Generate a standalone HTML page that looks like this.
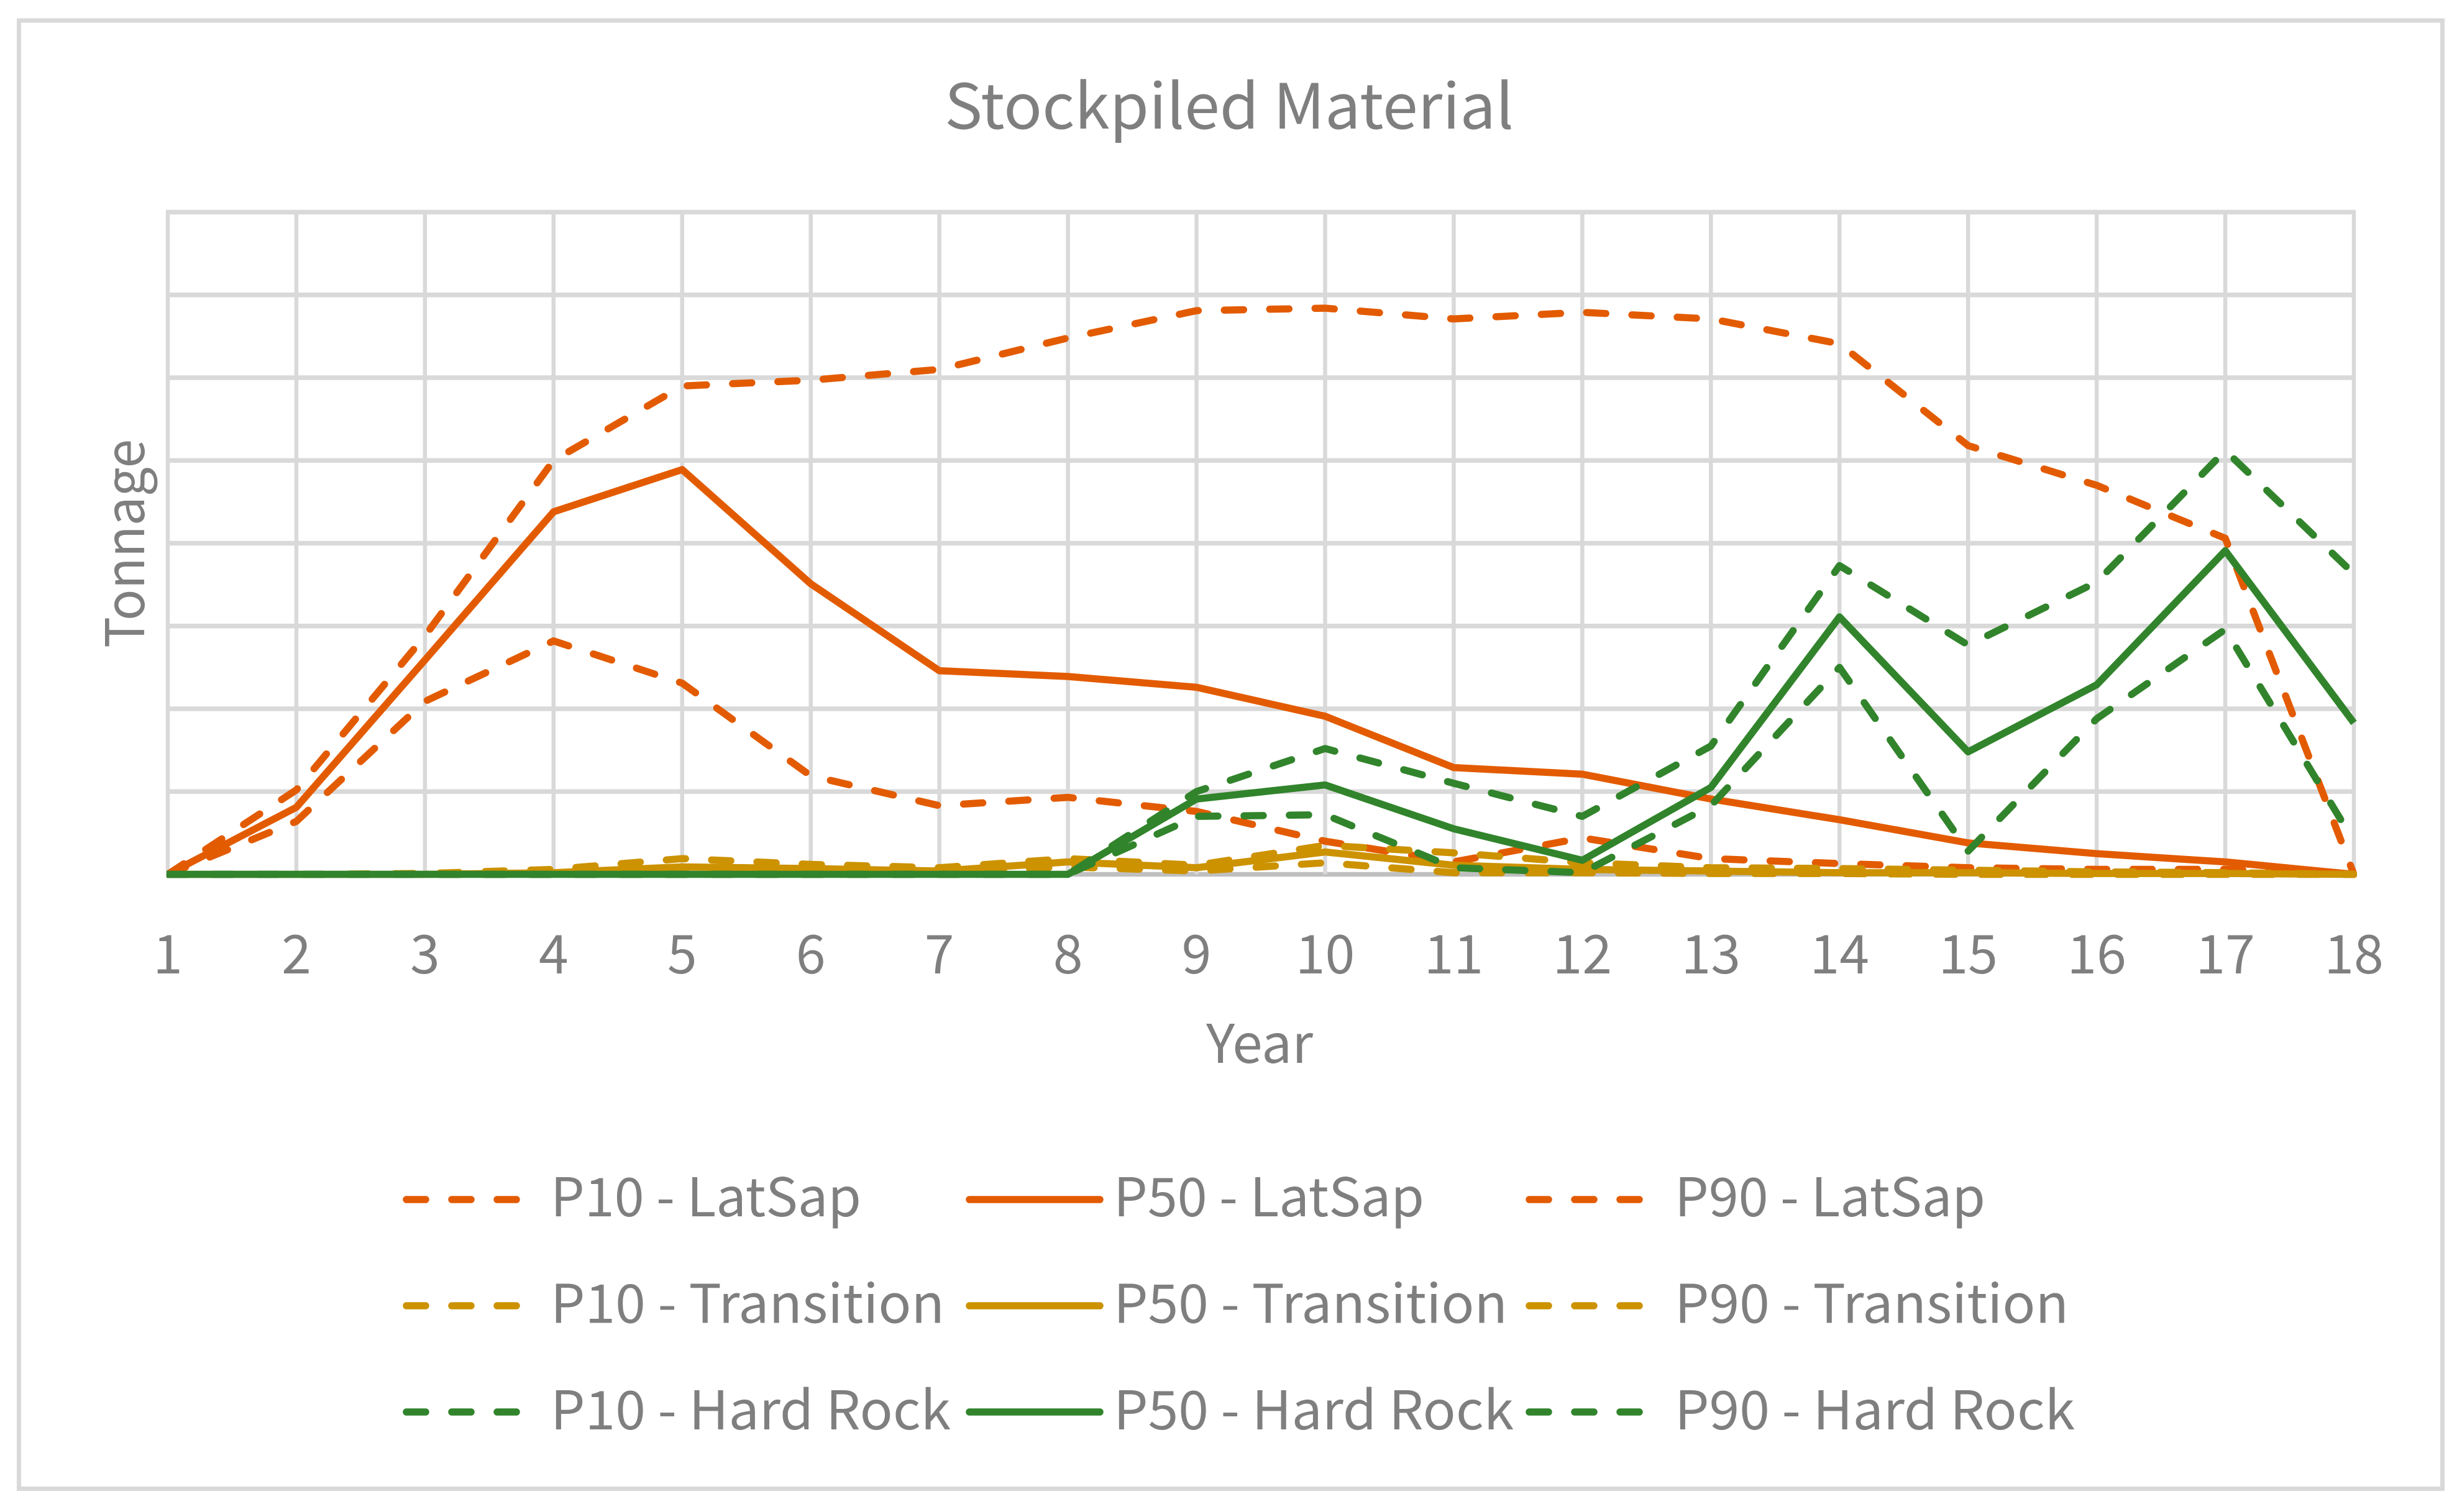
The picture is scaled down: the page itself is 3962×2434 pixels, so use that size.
<!DOCTYPE html>
<html lang="en">
<head>
<meta charset="utf-8">
<title>Stockpiled Material</title>
<style>
html,body{margin:0;padding:0;background:#fff;}
svg{display:block;}
text{font-family:"Noto Sans CJK JP","Liberation Sans",sans-serif;fill:#7f7f7f;}
</style>
</head>
<body>
<svg id="chart" xmlns="http://www.w3.org/2000/svg" width="3962" height="2434" viewBox="0 0 3962 2434">
  <defs>
    <clipPath id="plot-clip"><rect x="268" y="300" width="3525" height="1114"/></clipPath>
  </defs>
  <rect x="0" y="0" width="3962" height="2434" fill="#fff"/>
  <rect x="30.5" y="33" width="3900" height="2363.5" fill="#fff" stroke="#d9d9d9" stroke-width="7"/>
  <text x="1520" y="207" font-size="100" textLength="916" lengthAdjust="spacingAndGlyphs">Stockpiled Material</text>
  <g id="grid"></g>
  <g id="series" clip-path="url(#plot-clip)"></g>
  <g id="xticks"></g>
  <text x="2027" y="1711" font-size="86" text-anchor="middle" textLength="172" lengthAdjust="spacingAndGlyphs">Year</text>
  <text transform="translate(232,875) rotate(-90)" x="0" y="0" font-size="86" text-anchor="middle" textLength="336" lengthAdjust="spacingAndGlyphs">Tonnage</text>

  <g stroke-width="11.5">
    <g>
      <line x1="654" y1="1931" x2="832" y2="1931" stroke="#e35b00" stroke-dasharray="31 42" stroke-linecap="round"/>
      <text x="886" y="1958" font-size="86" textLength="500" lengthAdjust="spacingAndGlyphs">P10 - LatSap</text>
    </g>
    <g>
      <line x1="1560" y1="1931" x2="1770" y2="1931" stroke="#e35b00" stroke-linecap="round"/>
      <text x="1792" y="1958" font-size="86" textLength="500" lengthAdjust="spacingAndGlyphs">P50 - LatSap</text>
    </g>
    <g>
      <line x1="2461" y1="1931" x2="2639" y2="1931" stroke="#e35b00" stroke-dasharray="31 42" stroke-linecap="round"/>
      <text x="2695" y="1958" font-size="86" textLength="500" lengthAdjust="spacingAndGlyphs">P90 - LatSap</text>
    </g>
    <g>
      <line x1="654" y1="2102" x2="832" y2="2102" stroke="#cc9200" stroke-dasharray="31 42" stroke-linecap="round"/>
      <text x="886" y="2129.5" font-size="86" textLength="634" lengthAdjust="spacingAndGlyphs">P10 - Transition</text>
    </g>
    <g>
      <line x1="1560" y1="2102" x2="1770" y2="2102" stroke="#cc9200" stroke-linecap="round"/>
      <text x="1792" y="2129.5" font-size="86" textLength="634" lengthAdjust="spacingAndGlyphs">P50 - Transition</text>
    </g>
    <g>
      <line x1="2461" y1="2102" x2="2639" y2="2102" stroke="#cc9200" stroke-dasharray="31 42" stroke-linecap="round"/>
      <text x="2695" y="2129.5" font-size="86" textLength="634" lengthAdjust="spacingAndGlyphs">P90 - Transition</text>
    </g>
    <g>
      <line x1="654" y1="2273" x2="832" y2="2273" stroke="#31842b" stroke-dasharray="31 42" stroke-linecap="round"/>
      <text x="886" y="2301" font-size="86" textLength="644" lengthAdjust="spacingAndGlyphs">P10 - Hard Rock</text>
    </g>
    <g>
      <line x1="1560" y1="2273" x2="1770" y2="2273" stroke="#31842b" stroke-linecap="round"/>
      <text x="1792" y="2301" font-size="86" textLength="644" lengthAdjust="spacingAndGlyphs">P50 - Hard Rock</text>
    </g>
    <g>
      <line x1="2461" y1="2273" x2="2639" y2="2273" stroke="#31842b" stroke-dasharray="31 42" stroke-linecap="round"/>
      <text x="2695" y="2301" font-size="86" textLength="644" lengthAdjust="spacingAndGlyphs">P90 - Hard Rock</text>
    </g>
  </g>
</svg>
<script>
// Category labels and y gridline levels (tonnage in gridline units; the source axis has no printed values)
const years = [1,2,3,4,5,6,7,8,9,10,11,12,13,14,15,16,17,18];
const yLevels = [0,1,2,3,4,5,6,7,8];

// Series values
const p10LatSap = [0,0.64,2.09,2.82,2.31,1.19,0.83,0.93,0.76,0.40,0.15,0.44,0.19,0.13,0.08,0.06,0.06,0];
const p50LatSap = [0,0.81,2.59,4.38,4.89,3.51,2.46,2.39,2.26,1.91,1.29,1.21,0.91,0.66,0.38,0.25,0.15,0];
const p90LatSap = [0,1.02,2.88,5.00,5.90,5.97,6.10,6.48,6.81,6.84,6.71,6.79,6.71,6.41,5.18,4.70,4.06,0];

const p10Transition = [0,0,0,0,0.04,0.04,0.02,0.09,0.04,0.14,0.02,0.02,0.01,0.01,0,0,0,0];
const p50Transition = [0,0,0,0.02,0.09,0.07,0.04,0.15,0.08,0.27,0.11,0.06,0.04,0.02,0.02,0.01,0.01,0];
const p90Transition = [0,0,0.01,0.06,0.19,0.12,0.08,0.19,0.11,0.35,0.26,0.14,0.08,0.07,0.05,0.03,0.02,0];

const p10HardRock = [0,0,0,0,0,0,0,0,0.70,0.72,0.08,0.02,0.83,2.50,0.28,1.88,2.96,0.40];
const p50HardRock = [0,0,0,0,0,0,0,0,0.91,1.08,0.55,0.17,1.05,3.11,1.48,2.29,3.91,1.83];
const p90HardRock = [0,0,0,0,0,0,0,0,1.00,1.52,1.10,0.70,1.55,3.73,2.77,3.53,5.12,3.63];

const SVGNS = 'http://www.w3.org/2000/svg';
const PLOT = {left:270, right:3788, top:341.5, bottom:1407.5};

function xAxis(year){
  return PLOT.left + (year - years[0]) * (PLOT.right - PLOT.left) / (years[years.length-1] - years[0]);
}
function yAxis(value){
  const maxLevel = yLevels[yLevels.length-1];
  return PLOT.bottom - value * (PLOT.bottom - PLOT.top) / maxLevel;
}

// Gridlines
const gridGroup = document.getElementById('grid');
yLevels.forEach(function(level){
  const el = document.createElementNS(SVGNS,'line');
  
  
  el.setAttribute('x1', PLOT.left - 3);
  el.setAttribute('x2', PLOT.right + 3);
  el.setAttribute('y1', yAxis(level));
  el.setAttribute('y2', yAxis(level));
  el.setAttribute('stroke', level === 0 ? '#bfbfbf' : '#d9d9d9');
  el.setAttribute('stroke-width', '7.5');
  gridGroup.appendChild(el);
});
years.forEach(function(year){
  const el = document.createElementNS(SVGNS,'line');
  
  
  el.setAttribute('x1', xAxis(year));
  el.setAttribute('x2', xAxis(year));
  el.setAttribute('y1', PLOT.top);
  el.setAttribute('y2', PLOT.bottom);
  el.setAttribute('stroke', '#d9d9d9');
  el.setAttribute('stroke-width', '6.5');
  gridGroup.appendChild(el);
});

// X tick labels
const tickGroup = document.getElementById('xticks');
years.forEach(function(year){
  const el = document.createElementNS(SVGNS,'text');
  
  
  el.setAttribute('x', xAxis(year));
  el.setAttribute('y', 1567);
  el.setAttribute('font-size', '86');
  el.setAttribute('text-anchor', 'middle');
  el.textContent = String(year);
  tickGroup.appendChild(el);
});

// Series
const seriesList = [
  {name:'p10-latsap', values:p10LatSap, color:'#e35b00', dashed:true},
  {name:'p50-latsap', values:p50LatSap, color:'#e35b00', dashed:false},
  {name:'p90-latsap', values:p90LatSap, color:'#e35b00', dashed:true},
  {name:'p10-transition', values:p10Transition, color:'#cc9200', dashed:true},
  {name:'p50-transition', values:p50Transition, color:'#cc9200', dashed:false},
  {name:'p90-transition', values:p90Transition, color:'#cc9200', dashed:true},
  {name:'p10-hard-rock', values:p10HardRock, color:'#31842b', dashed:true},
  {name:'p50-hard-rock', values:p50HardRock, color:'#31842b', dashed:false},
  {name:'p90-hard-rock', values:p90HardRock, color:'#31842b', dashed:true}
];
const seriesGroup = document.getElementById('series');
seriesList.forEach(function(s){
  const el = document.createElementNS(SVGNS,'polyline');
  
  
  el.setAttribute('points', s.values.map(function(v,i){ return xAxis(years[i]) + ',' + yAxis(v); }).join(' '));
  el.setAttribute('fill', 'none');
  el.setAttribute('stroke', s.color);
  el.setAttribute('stroke-width', '11.5');
  el.setAttribute('stroke-linejoin', 'round');
  el.setAttribute('stroke-linecap', s.dashed ? 'round' : 'butt');
  if (s.dashed) el.setAttribute('stroke-dasharray', '31 42');
  seriesGroup.appendChild(el);
});
</script>
</body>
</html>
